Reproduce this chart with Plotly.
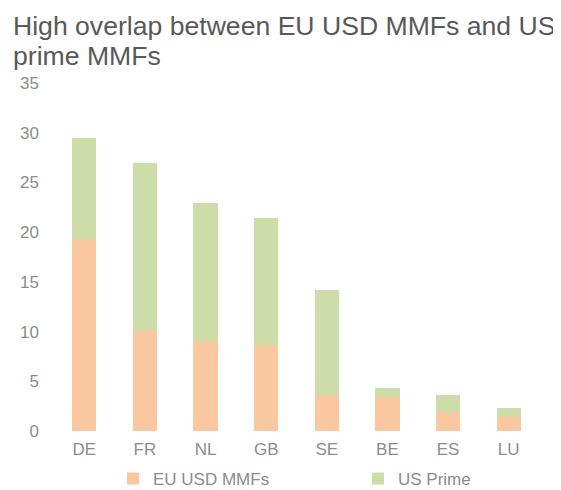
import plotly.graph_objects as go

categories = ["DE", "FR", "NL", "GB", "SE", "BE", "ES", "LU"]
eu_usd_mmfs = [19.3, 10.2, 9.1, 8.7, 3.6, 3.4, 1.9, 1.4]
us_prime = [10.2, 16.8, 13.8, 12.7, 10.6, 0.9, 1.7, 0.9]
y_ticks = [0, 5, 10, 15, 20, 25, 30, 35]
title_lines = ["High overlap between EU USD MMFs and US", "prime MMFs"]

FONT = "Liberation Sans, Arial, sans-serif"
OFF = 8  # page body margin
W, H = 561 - OFF, 490 - OFF
ML, MR, MT, MB = 54 - OFF, 22, 83 - OFF, 59
PW, PH = W - ML - MR, H - MT - MB

def px_x(p):
    return (p - OFF - ML) / PW

def px_y(p):
    return (H - MB - (p - OFF)) / PH

fig = go.Figure()
fig.add_trace(go.Bar(x=categories, y=eu_usd_mmfs, name="EU USD MMFs",
                     marker=dict(color="#F9C8A0", line=dict(width=0)), legend="legend"))
fig.add_trace(go.Bar(x=categories, y=us_prime, name="US Prime",
                     marker=dict(color="#CCDDAA", line=dict(width=0)), legend="legend2"))

leg_common = dict(orientation="h", yanchor="middle", xanchor="left",
                  font=dict(size=17, color="#8c8c8c", family=FONT),
                  bgcolor="rgba(0,0,0,0)", itemwidth=30)

fig.update_layout(
    barmode="stack",
    bargap=0.6,
    width=W, height=H,
    margin=dict(l=ML, r=MR, t=MT, b=MB, autoexpand=False),
    paper_bgcolor="white", plot_bgcolor="white",
    font=dict(family=FONT, color="#8c8c8c", size=17),
    xaxis=dict(showgrid=False, showline=False, ticks="", ticklabelstandoff=6,
               tickfont=dict(size=17, color="#8c8c8c")),
    yaxis=dict(range=[0, 35], tickvals=y_ticks, showgrid=False, showline=False,
               zeroline=False, ticks="", ticklabelstandoff=14,
               tickfont=dict(size=17, color="#8c8c8c")),
    legend=dict(x=px_x(113), y=px_y(479), **leg_common),
    legend2=dict(x=px_x(358), y=px_y(479), **leg_common),
    showlegend=True,
)

for i, (line, top) in enumerate(zip(title_lines, [9, 39])):
    fig.add_annotation(text=line, xref="paper", yref="paper",
                       x=px_x(11), y=px_y(top), xanchor="left", yanchor="top",
                       showarrow=False,
                       font=dict(size=26.6, color="#595959", family=FONT))

fig.write_html("out.html")
